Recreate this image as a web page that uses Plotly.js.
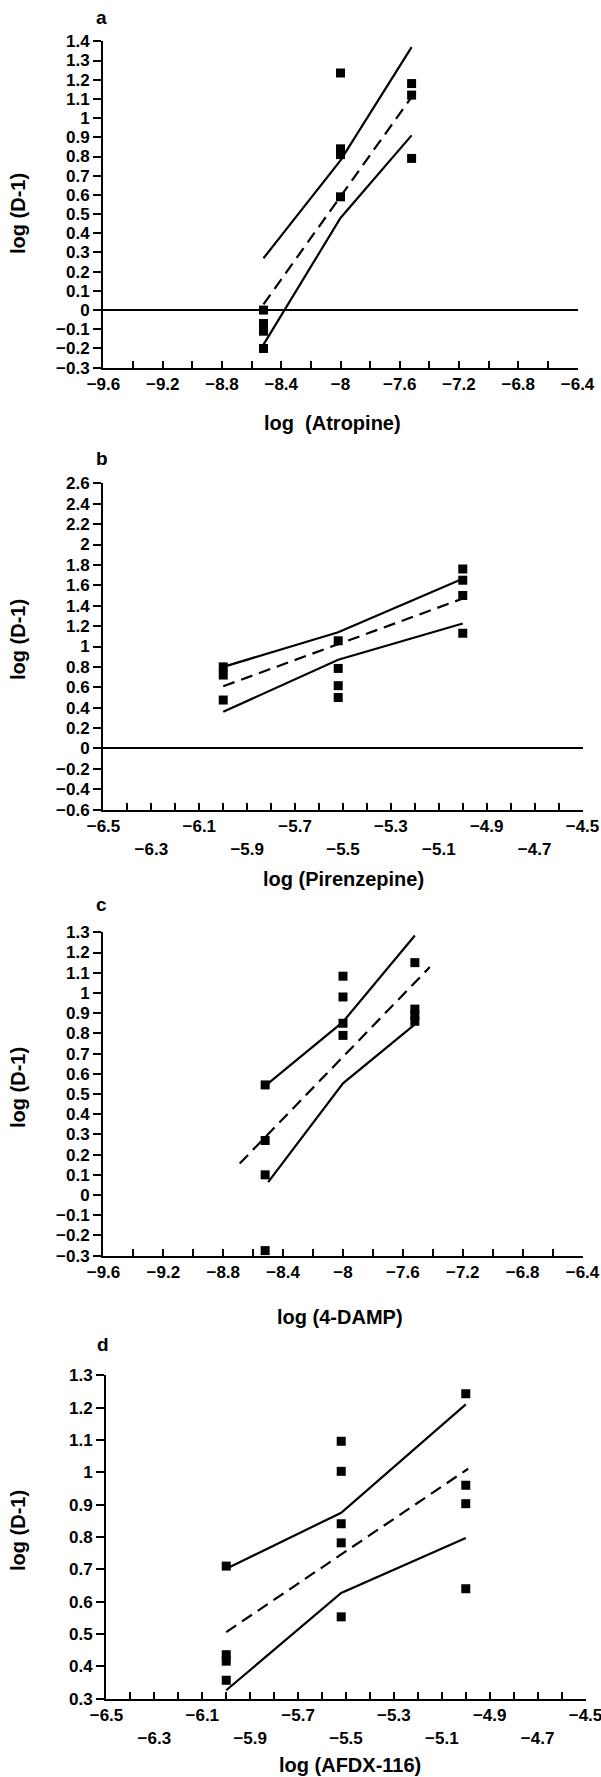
<!DOCTYPE html>
<html>
<head>
<meta charset="utf-8">
<script src="https://cdn.plot.ly/plotly-3.0.1.min.js"></script>
<style>html,body{margin:0;padding:0;background:#fff;}#chart{width:601px;height:1777px;}</style>
</head>
<body>
<div id="chart"></div>
<script>
// ---------- DATA ----------
// Panel a : Atropine
const aPtsX = [-8.52, -8.52, -8.52, -8.52, -8, -8, -8, -8, -7.52, -7.52, -7.52];
const aPtsY = [0.0, -0.07, -0.11, -0.20, 1.235, 0.84, 0.81, 0.59, 1.18, 1.12, 0.79];
const aLineX = [-8.52, -8, -7.52];
const aUpperY = [0.27, 0.78, 1.37];
const aLowerY = [-0.18, 0.48, 0.91];
const aFitX = [-8.52, -7.52];
const aFitY = [0.03, 1.11];

// Panel b : Pirenzepine
const bPtsX = [-6, -6, -6, -5.52, -5.52, -5.52, -5.52, -5, -5, -5, -5];
const bPtsY = [0.80, 0.72, 0.475, 1.056, 0.785, 0.616, 0.50, 1.76, 1.65, 1.50, 1.13];
const bLineX = [-6, -5.52, -5];
const bUpperY = [0.80, 1.14, 1.665];
const bLowerY = [0.36, 0.87, 1.225];
const bFitX = [-6, -5];
const bFitY = [0.61, 1.47];

// Panel c : 4-DAMP
const cPtsX = [-8.52, -8.52, -8.52, -8.52, -8, -8, -8, -8, -7.52, -7.52, -7.52, -7.52];
const cPtsY = [0.545, 0.27, 0.10, -0.275, 1.083, 0.98, 0.85, 0.79, 1.15, 0.92, 0.89, 0.86];
const cUpperX = [-8.52, -8, -7.52];
const cUpperY = [0.54, 0.857, 1.284];
const cLowerX = [-8.5, -8, -7.52];
const cLowerY = [0.064, 0.553, 0.845];
const cFitX = [-8.69, -7.42];
const cFitY = [0.156, 1.128];

// Panel d : AFDX-116
const dPtsX = [-6, -6, -6, -6, -5.52, -5.52, -5.52, -5.52, -5.52, -5, -5, -5, -5];
const dPtsY = [0.71, 0.436, 0.416, 0.357, 1.096, 1.003, 0.841, 0.782, 0.553, 1.243, 0.96, 0.903, 0.64];
const dLineX = [-6, -5.52, -5];
const dUpperY = [0.702, 0.875, 1.21];
const dLowerY = [0.326, 0.627, 0.797];
const dFitX = [-6, -4.99];
const dFitY = [0.506, 1.011];

// Tick values / labels
const xTicksAC = [-9.6, -9.4, -9.2, -9.0, -8.8, -8.6, -8.4, -8.2, -8.0, -7.8, -7.6, -7.4, -7.2, -7.0, -6.8, -6.6, -6.4];
const xTextAC = ["\u22129.6", "", "\u22129.2", "", "\u22128.8", "", "\u22128.4", "", "\u22128", "", "\u22127.6", "", "\u22127.2", "", "\u22126.8", "", "\u22126.4"];
const xTicksBD = [-6.5, -6.4, -6.3, -6.2, -6.1, -6.0, -5.9, -5.8, -5.7, -5.6, -5.5, -5.4, -5.3, -5.2, -5.1, -5.0, -4.9, -4.8, -4.7, -4.6, -4.5];
const xTextBD = ["\u22126.5", "", "<br>\u22126.3", "", "\u22126.1", "", "<br>\u22125.9", "", "\u22125.7", "", "<br>\u22125.5", "", "\u22125.3", "", "<br>\u22125.1", "", "\u22124.9", "", "<br>\u22124.7", "", "\u22124.5"];

const panelLetters = ["a", "b", "c", "d"];
const xTitles = ["log\u00a0 (Atropine)", "log (Pirenzepine)", "log (4-DAMP)", "log (AFDX-116)"];
const yTitle = "log (D-1)";

// ---------- LAYOUT HELPERS ----------
const W = 601, H = 1777;
const FONT = "Liberation Sans, Arial, Helvetica, sans-serif";
const px = v => v / W;
const py = v => 1 - v / H;

// plot boxes [left, right, top, bottom] in pixels
const boxes = [
  [103, 578, 41, 368],
  [103, 583, 483, 810],
  [103, 583, 932, 1256],
  [106, 586, 1375, 1699]
];
const yRanges = [[-0.3, 1.4], [-0.6, 2.6], [-0.3, 1.3], [0.3, 1.3]];
const yDticks = [0.1, 0.2, 0.1, 0.1];
const xRanges = [[-9.6, -6.4], [-6.5, -4.5], [-9.6, -6.4], [-6.5, -4.5]];
const zeroLines = [true, true, false, false];

const letterPos = [[102, 18], [102, 458], [102, 905], [103, 1344]];
const yTitlePos = [[18, 214], [18, 640], [18, 1088], [18, 1531]];
const xTitlePos = [[332, 423], [343, 879], [340, 1317], [350, 1765]];

const sets = [
  {px: aPtsX, py: aPtsY, ux: aLineX, uy: aUpperY, lx: aLineX, ly: aLowerY, fx: aFitX, fy: aFitY},
  {px: bPtsX, py: bPtsY, ux: bLineX, uy: bUpperY, lx: bLineX, ly: bLowerY, fx: bFitX, fy: bFitY},
  {px: cPtsX, py: cPtsY, ux: cUpperX, uy: cUpperY, lx: cLowerX, ly: cLowerY, fx: cFitX, fy: cFitY},
  {px: dPtsX, py: dPtsY, ux: dLineX, uy: dUpperY, lx: dLineX, ly: dLowerY, fx: dFitX, fy: dFitY}
];

const traces = [];
const layout = {
  width: W, height: H,
  margin: {l: 0, r: 0, t: 0, b: 0},
  paper_bgcolor: "#fff", plot_bgcolor: "rgba(0,0,0,0)",
  showlegend: false,
  font: {family: FONT, color: "#000", size: 17},
  annotations: []
};

sets.forEach((s, i) => {
  const n = i === 0 ? "" : String(i + 1);
  const xa = "x" + n, ya = "y" + n;
  const lineStyle = {color: "#000", width: 2.2};
  traces.push({x: s.ux, y: s.uy, xaxis: xa, yaxis: ya, mode: "lines", line: lineStyle, hoverinfo: "skip"});
  traces.push({x: s.lx, y: s.ly, xaxis: xa, yaxis: ya, mode: "lines", line: lineStyle, hoverinfo: "skip"});
  traces.push({x: s.fx, y: s.fy, xaxis: xa, yaxis: ya, mode: "lines", line: {color: "#000", width: 2.2, dash: "12px,7px"}, hoverinfo: "skip"});
  traces.push({x: s.px, y: s.py, xaxis: xa, yaxis: ya, mode: "markers", marker: {symbol: "square", size: 9, color: "#000"}, hoverinfo: "skip"});

  const b = boxes[i];
  const yr = yRanges[i], xr = xRanges[i];
  const ye = (yr[1] - yr[0]) * 0.001, xe = (xr[1] - xr[0]) * 0.001;
  layout["xaxis" + n] = {
    domain: [px(b[0]), px(b[1])],
    anchor: ya,
    range: [xr[0] - xe, xr[1] + xe],
    tickmode: "array",
    tickvals: i % 2 === 0 ? xTicksAC : xTicksBD,
    ticktext: i % 2 === 0 ? xTextAC : xTextBD,
    ticks: "inside", ticklen: 7, tickwidth: 2, tickcolor: "#000",
    ticklabeloverflow: "allow",
    showline: true, linewidth: 2, linecolor: "#000",
    showgrid: false, zeroline: false,
    tickfont: {family: FONT, size: 17, color: "#000", weight: "bold"},
    fixedrange: true
  };
  layout["yaxis" + n] = {
    domain: [py(b[3]), py(b[2])],
    anchor: xa,
    range: [yr[0] - ye, yr[1] + ye],
    tick0: 0, dtick: yDticks[i],
    ticks: "outside", ticklen: 8, tickwidth: 2, tickcolor: "#000",
    ticklabeloverflow: "allow",
    showline: true, linewidth: 2, linecolor: "#000",
    showgrid: false,
    zeroline: zeroLines[i], zerolinecolor: "#000", zerolinewidth: 2,
    tickfont: {family: FONT, size: 17, color: "#000", weight: "bold"},
    fixedrange: true
  };

  layout.annotations.push({
    xref: "paper", yref: "paper", x: px(letterPos[i][0]), y: py(letterPos[i][1]),
    xanchor: "center", yanchor: "middle", showarrow: false,
    text: panelLetters[i], font: {family: FONT, size: 19, color: "#000", weight: "bold"}
  });
  layout.annotations.push({
    xref: "paper", yref: "paper", x: px(yTitlePos[i][0]), y: py(yTitlePos[i][1]),
    xanchor: "center", yanchor: "middle", showarrow: false, textangle: -90,
    text: yTitle, font: {family: FONT, size: 20, color: "#000", weight: "bold"}
  });
  layout.annotations.push({
    xref: "paper", yref: "paper", x: px(xTitlePos[i][0]), y: py(xTitlePos[i][1]),
    xanchor: "center", yanchor: "middle", showarrow: false,
    text: xTitles[i], font: {family: FONT, size: 20, color: "#000", weight: "bold"}
  });
});

Plotly.newPlot("chart", traces, layout, {staticPlot: true, displayModeBar: false});
</script>
</body>
</html>
